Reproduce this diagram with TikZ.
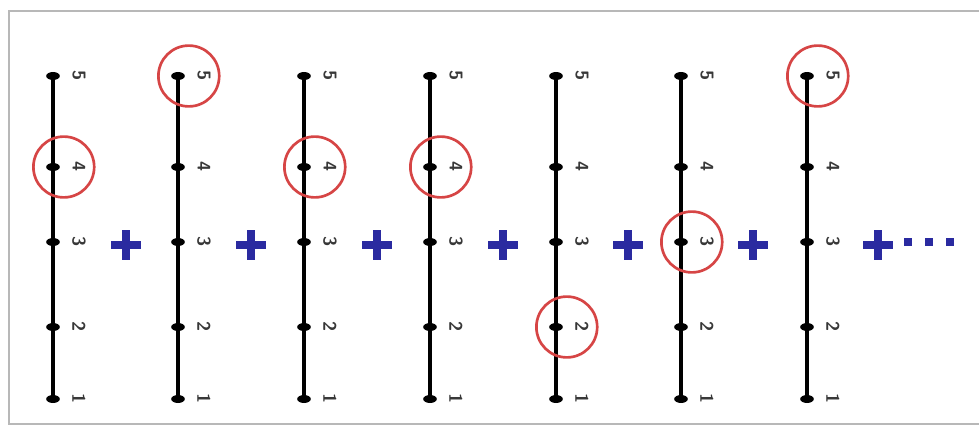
\documentclass[tikz,border=0pt]{standalone}
\usetikzlibrary{shapes.geometric}
\definecolor{plusblue}{HTML}{2A2AA0}
\definecolor{ringred}{HTML}{D64545}
\definecolor{framegray}{HTML}{B8B8B8}
\definecolor{labelgray}{HTML}{383838}
\begin{document}
\begin{tikzpicture}[x=0.025cm, y=-0.025cm]
\tikzset{dotnode/.style={ellipse, fill=black, inner sep=0pt, minimum width=0.34cm, minimum height=0.2cm},
  axis/.style={line width=2.6pt},
  numlabel/.style={rotate=-90, text=labelgray, font=\sffamily\bfseries\fontsize{13}{13}\selectfont, inner sep=0pt},
  ringnode/.style={draw=ringred, circle, line width=1.9pt, minimum size=1.52cm, xshift=0.27cm},
  plusnode/.style={minimum size=0.74cm, inner sep=0pt,
    path picture={\draw[plusblue, line width=5.5pt]
      (path picture bounding box.north) -- (path picture bounding box.south)
      (path picture bounding box.west) -- (path picture bounding box.east);}},
  dotsq/.style={fill=plusblue, inner sep=0pt, minimum size=0.19cm}}
\useasboundingbox (0,0) rectangle (979,427);
\draw[framegray, line width=1.4pt] (979,11) -- (9,11) -- (9,424) -- (979,424);
% the seven axes
\foreach \c/\x in {1/53,2/178,3/304,4/430,5/556,6/681,7/807} {
  \foreach \k/\y in {1/399,2/327,3/242,4/167,5/76} {
    \node[dotnode] (d\c-\k) at (\x,\y) {};
    \node[numlabel] (l\c-\k) at (\x+26,\y) {\k};
  }
  \draw[axis] (d\c-1.center) -- (d\c-5.center);
}
% red rings
\node[ringnode] (ring1) at (d1-4) {};
\node[ringnode] (ring2) at (d2-5) {};
\node[ringnode] (ring3) at (d3-4) {};
\node[ringnode] (ring4) at (d4-4) {};
\node[ringnode] (ring5) at (d5-2) {};
\node[ringnode] (ring6) at (d6-3) {};
\node[ringnode] (ring7) at (d7-5) {};
% plus signs
\foreach \p/\x in {1/126,2/251,3/377,4/503,5/628,6/753,7/878}
  \node[plusnode] (plus\p) at (\x,245) {};
\node[dotsq] (dots1) at (908,242) {};
\node[dotsq] (dots2) at (929,242) {};
\node[dotsq] (dots3) at (950,242) {};
\end{tikzpicture}
\end{document}
